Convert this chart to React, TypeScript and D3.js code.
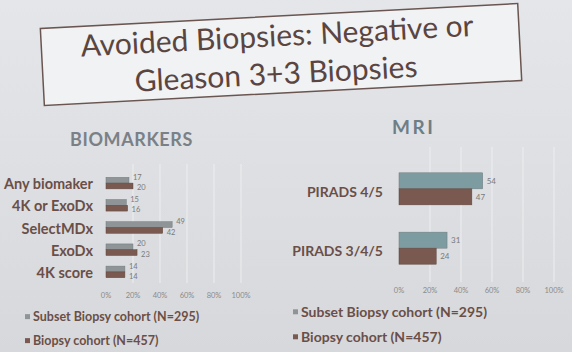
import React from 'react';
import * as d3 from 'd3';

const bioCategories = ['Any biomaker', '4K or ExoDx', 'SelectMDx', 'ExoDx', '4K score'];
const bioSubset = [17, 15, 49, 20, 14];
const bioFull = [20, 16, 42, 23, 14];

const mriCategories = ['PIRADS 4/5', 'PIRADS 3/4/5'];
const mriSubset = [54, 31];
const mriFull = [47, 24];

const xTicks = [0, 20, 40, 60, 80, 100];
const legendLabels = ['Subset Biopsy cohort (N=295)', 'Biopsy cohort (N=457)'];

const FONT = 'Lato, "Open Sans", sans-serif';
const BROWN = '#7a5a50';
const TEXT_BROWN = '#6a4f48';

type PanelProps = {
  categories: string[];
  subset: number[];
  full: number[];
  x0: number;
  x1: number;
  y0: number;
  y1: number;
  padInner: number;
  padOuter: number;
  grayColor: string;
  labelX: number;
  labelSize: number;
  valueSize: number;
  tickY: number;
  thin: boolean;
};

const Panel = (p: PanelProps) => {
  const x = d3.scaleLinear().domain([0, 100]).range([p.x0, p.x1]);
  const y = d3.scaleBand<string>().domain(p.categories).range([p.y0, p.y1])
    .paddingInner(p.padInner).paddingOuter(p.padOuter);
  const half = y.bandwidth() / 2;

  return (
    <g>
      {/* grid */}
      {xTicks.slice(1).map(t => (
        <line key={t} x1={x(t)} x2={x(t)} y1={p.y0 - 8} y2={p.y1}
          stroke="#eceef1" strokeWidth={1} />
      ))}
      {p.categories.map((c, i) => {
        const top = y(c)!;
        const gy = top + half / 2;
        const by = top + half + half / 2;
        return (
          <g key={c}>
            <rect x={x(0)} y={top} width={x(p.subset[i]) - x(0)} height={half}
              fill={p.grayColor} stroke="#6f7a7c" strokeWidth={0.5} />
            <rect x={x(0)} y={top + half} width={x(p.full[i]) - x(0)} height={half}
              fill={BROWN} stroke="#5c463f" strokeWidth={0.5} />
            <text x={x(p.subset[i]) + 4} y={gy - (p.thin ? 3 : 0)} dy="0.35em"
              fontSize={p.valueSize} fill="#7a7a7a">{p.subset[i]}</text>
            <text x={x(p.full[i]) + 4} y={by + (p.thin ? 1.5 : 0)} dy="0.35em"
              fontSize={p.valueSize} fill="#7a7a7a">{p.full[i]}</text>
            <text x={p.labelX} y={top + half + (p.thin ? 1 : 3)} dy="0.35em" textAnchor="end"
              fontSize={p.labelSize} fontWeight={700} fill={TEXT_BROWN}>{c}</text>
          </g>
        );
      })}
      {xTicks.map(t => (
        <text key={t} x={x(t)} y={p.tickY} dy="0.35em" textAnchor="middle"
          fontSize={7.5} fill="#8a8a8a">{t}%</text>
      ))}
    </g>
  );
};

const Legend = ({ x, y, size, gray, gap }: { x: number; y: number; size: number; gray: string; gap: number }) => (
  <g>
    {legendLabels.map((l, i) => (
      <g key={l} transform={`translate(${x}, ${y + i * gap})`}>
        <rect x={0} y={-size * 0.55} width={5} height={5} fill={i === 0 ? gray : BROWN} />
        <text x={8} y={0} fontSize={size} fontWeight={700} fill={TEXT_BROWN}>{l}</text>
      </g>
    ))}
  </g>
);

const App = () => {
  return (
    <div style={{ position: 'absolute', left: 0, top: 0 }}>
      <svg width={572} height={352} style={{ display: 'block', fontFamily: FONT }}>
        <defs>
          <linearGradient id="bg" x1="0" y1="0" x2="0" y2="1">
            <stop offset="0%" stopColor="#e4e6e9" />
            <stop offset="100%" stopColor="#d7d8db" />
          </linearGradient>
        </defs>
        <rect width={572} height={352} fill="url(#bg)" />

        {/* Title box */}
        <g transform="translate(281, 54) rotate(-3)">
          <rect x={-239} y={-38} width={478} height={77} fill="#f1f2f4" stroke="#6a5550" strokeWidth={1.5} />
          <text x={-3} y={-8} textAnchor="middle" fontSize={30} fill="#5a4540">Avoided Biopsies: Negative or</text>
          <text x={-6} y={30} textAnchor="middle" fontSize={30} fill="#5a4540">Gleason 3+3 Biopsies</text>
        </g>

        <text x={70} y={146} fontSize={18} fontWeight={700} fill="#7b8087" letterSpacing={0.6}>BIOMARKERS</text>
        <text x={392} y={134} fontSize={19} fontWeight={700} fill="#6f7e86" letterSpacing={2.5}>MRI</text>

        <Panel categories={bioCategories} subset={bioSubset} full={bioFull}
          x0={106} x1={241} y0={172} y1={283} padInner={0.48} padOuter={0.24}
          grayColor="#8f9597" labelX={93} labelSize={14.5} valueSize={7.5} tickY={295} thin={true} />
        <Panel categories={mriCategories} subset={mriSubset} full={mriFull}
          x0={399} x1={554} y0={155} y1={282} padInner={0.46} padOuter={0.3}
          grayColor="#7d9ca2" labelX={383} labelSize={14} valueSize={8} tickY={290} thin={false} />

        <Legend x={25} y={321} size={12.5} gray="#8f9597" gap={24} />
        <Legend x={293} y={317} size={14} gray="#8f9597" gap={25} />
      </svg>
    </div>
  );
};

export default App;
